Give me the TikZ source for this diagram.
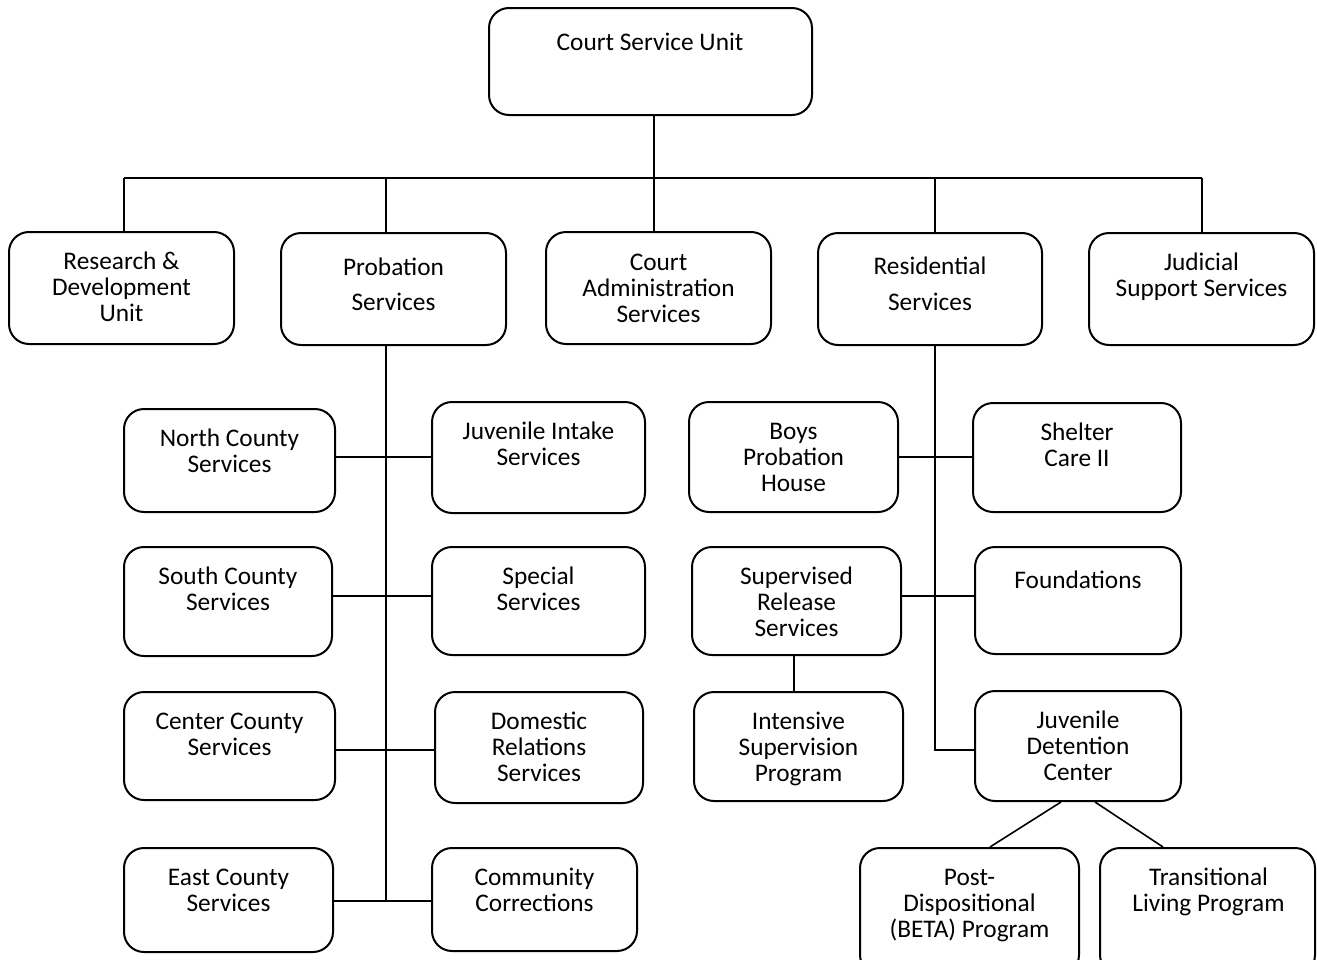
\documentclass[tikz,border=0pt]{standalone}
\usepackage{fontspec}
\setmainfont{Carlito}
\usetikzlibrary{fit}
\begin{document}
\begin{tikzpicture}[x=0.75pt,y=-0.75pt,
  box/.style={draw=black,line width=1.5pt,rounded corners=15pt,inner sep=0pt},
  lbl/.style={align=center,anchor=base,inner sep=0pt,font=\fontsize{19}{19.5}\selectfont},
  conn/.style={draw=black,line width=1.2pt}]
\clip (0,0) rectangle (1317,960);
\fill[white] (0,0) rectangle (1317,960);
% boxes
\node[box,fit={(489,8)(812,115)}] (csu) {};
\node[box,fit={(9,232)(234,344)}] (rd) {};
\node[box,fit={(281,233)(506,345)}] (prob) {};
\node[box,fit={(546,232)(771,344)}] (ca) {};
\node[box,fit={(818,233)(1042,345)}] (res) {};
\node[box,fit={(1089,233)(1314,345)}] (jud) {};
\node[box,fit={(124,409)(335,512)}] (nc) {};
\node[box,fit={(432,402)(645,513)}] (jis) {};
\node[box,fit={(124,547)(332,656)}] (sc) {};
\node[box,fit={(432,547)(645,655)}] (ss) {};
\node[box,fit={(124,692)(335,800)}] (cc) {};
\node[box,fit={(435,692)(643,803)}] (dr) {};
\node[box,fit={(124,848)(333,952)}] (ec) {};
\node[box,fit={(432,848)(637,951)}] (com) {};
\node[box,fit={(689,402)(898,512)}] (boys) {};
\node[box,fit={(973,403)(1181,512)}] (sh) {};
\node[box,fit={(692,547)(901,655)}] (sup) {};
\node[box,fit={(975,547)(1181,654)}] (fo) {};
\node[box,fit={(694,692)(903,801)}] (isp) {};
\node[box,fit={(975,691)(1181,801)}] (jdc) {};
\node[box,fit={(860,848)(1079,975)}] (post) {};
\node[box,fit={(1100,848)(1315,975)}] (tl) {};
% labels (anchored at the baseline of the last line)
\node[lbl] (csu-t) at (650,50) {Court Service Unit};
\node[lbl] (rd-t) at (121.5,321) {Research \&\\Development\\Unit};
\node[lbl] (prob-t) at (393.5,310) {Probation\\[6.75pt]Services};
\node[lbl] (ca-t) at (658.5,322) {Court\\Administration\\Services};
\node[lbl] (res-t) at (930,310) {Residential\\[7.5pt]Services};
\node[lbl] (jud-t) at (1201.5,296) {Judicial\\Support Services};
\node[lbl] (nc-t) at (229.5,472) {North County\\Services};
\node[lbl] (jis-t) at (538.5,465) {Juvenile Intake\\Services};
\node[lbl] (sc-t) at (228,610) {South County\\Services};
\node[lbl] (ss-t) at (538.5,610) {Special\\Services};
\node[lbl] (cc-t) at (229.5,755) {Center County\\Services};
\node[lbl] (dr-t) at (539,781) {Domestic\\Relations\\Services};
\node[lbl] (ec-t) at (228.5,911) {East County\\Services};
\node[lbl] (com-t) at (534.5,911) {Community\\Corrections};
\node[lbl] (boys-t) at (793.5,491) {Boys\\Probation\\House};
\node[lbl] (sh-t) at (1077,466) {Shelter\\Care II};
\node[lbl] (sup-t) at (796.5,636) {Supervised\\Release\\Services};
\node[lbl] (fo-t) at (1078,588) {Foundations};
\node[lbl] (isp-t) at (798.5,781) {Intensive\\Supervision\\Program};
\node[lbl] (jdc-t) at (1078,780) {Juvenile\\Detention\\Center};
\node[lbl] (post-t) at (969.5,937) {Post-\\Dispositional\\(BETA) Program};
\node[lbl] (tl-t) at (1208.5,911) {Transitional\\Living Program};
% top level connectors
\coordinate (busL) at (124,178);
\coordinate (busR) at (1202,178);
\draw[conn] (busL) -- (busR);
\draw[conn] (csu.south -| 654,0) -- (654,178);
\draw[conn] (busL) -- (124,0 |- rd.north);
\draw[conn] (386,178) -- (386,0 |- prob.north);
\draw[conn] (654,178) -- (654,0 |- ca.north);
\draw[conn] (935,178) -- (935,0 |- res.north);
\draw[conn] (busR) -- (1202,0 |- jud.north);
% probation branch
\draw[conn] (prob.south -| 386,0) -- (386,901);
\draw[conn] (nc.east |- 0,457) -- (jis.west |- 0,457);
\draw[conn] (sc.east |- 0,596) -- (ss.west |- 0,596);
\draw[conn] (cc.east |- 0,750) -- (dr.west |- 0,750);
\draw[conn] (ec.east |- 0,901) -- (com.west |- 0,901);
% residential branch
\draw[conn] (res.south -| 935,0) -- (935,750) -- (jdc.west |- 0,750);
\draw[conn] (boys.east |- 0,457) -- (sh.west |- 0,457);
\draw[conn] (sup.east |- 0,596) -- (fo.west |- 0,596);
\draw[conn] (sup.south -| 794,0) -- (isp.north -| 794,0);
\draw[conn] (jdc.south -| 1061,0) -- (post.north -| 990,0);
\draw[conn] (jdc.south -| 1095,0) -- (tl.north -| 1163,0);
\end{tikzpicture}
\end{document}
